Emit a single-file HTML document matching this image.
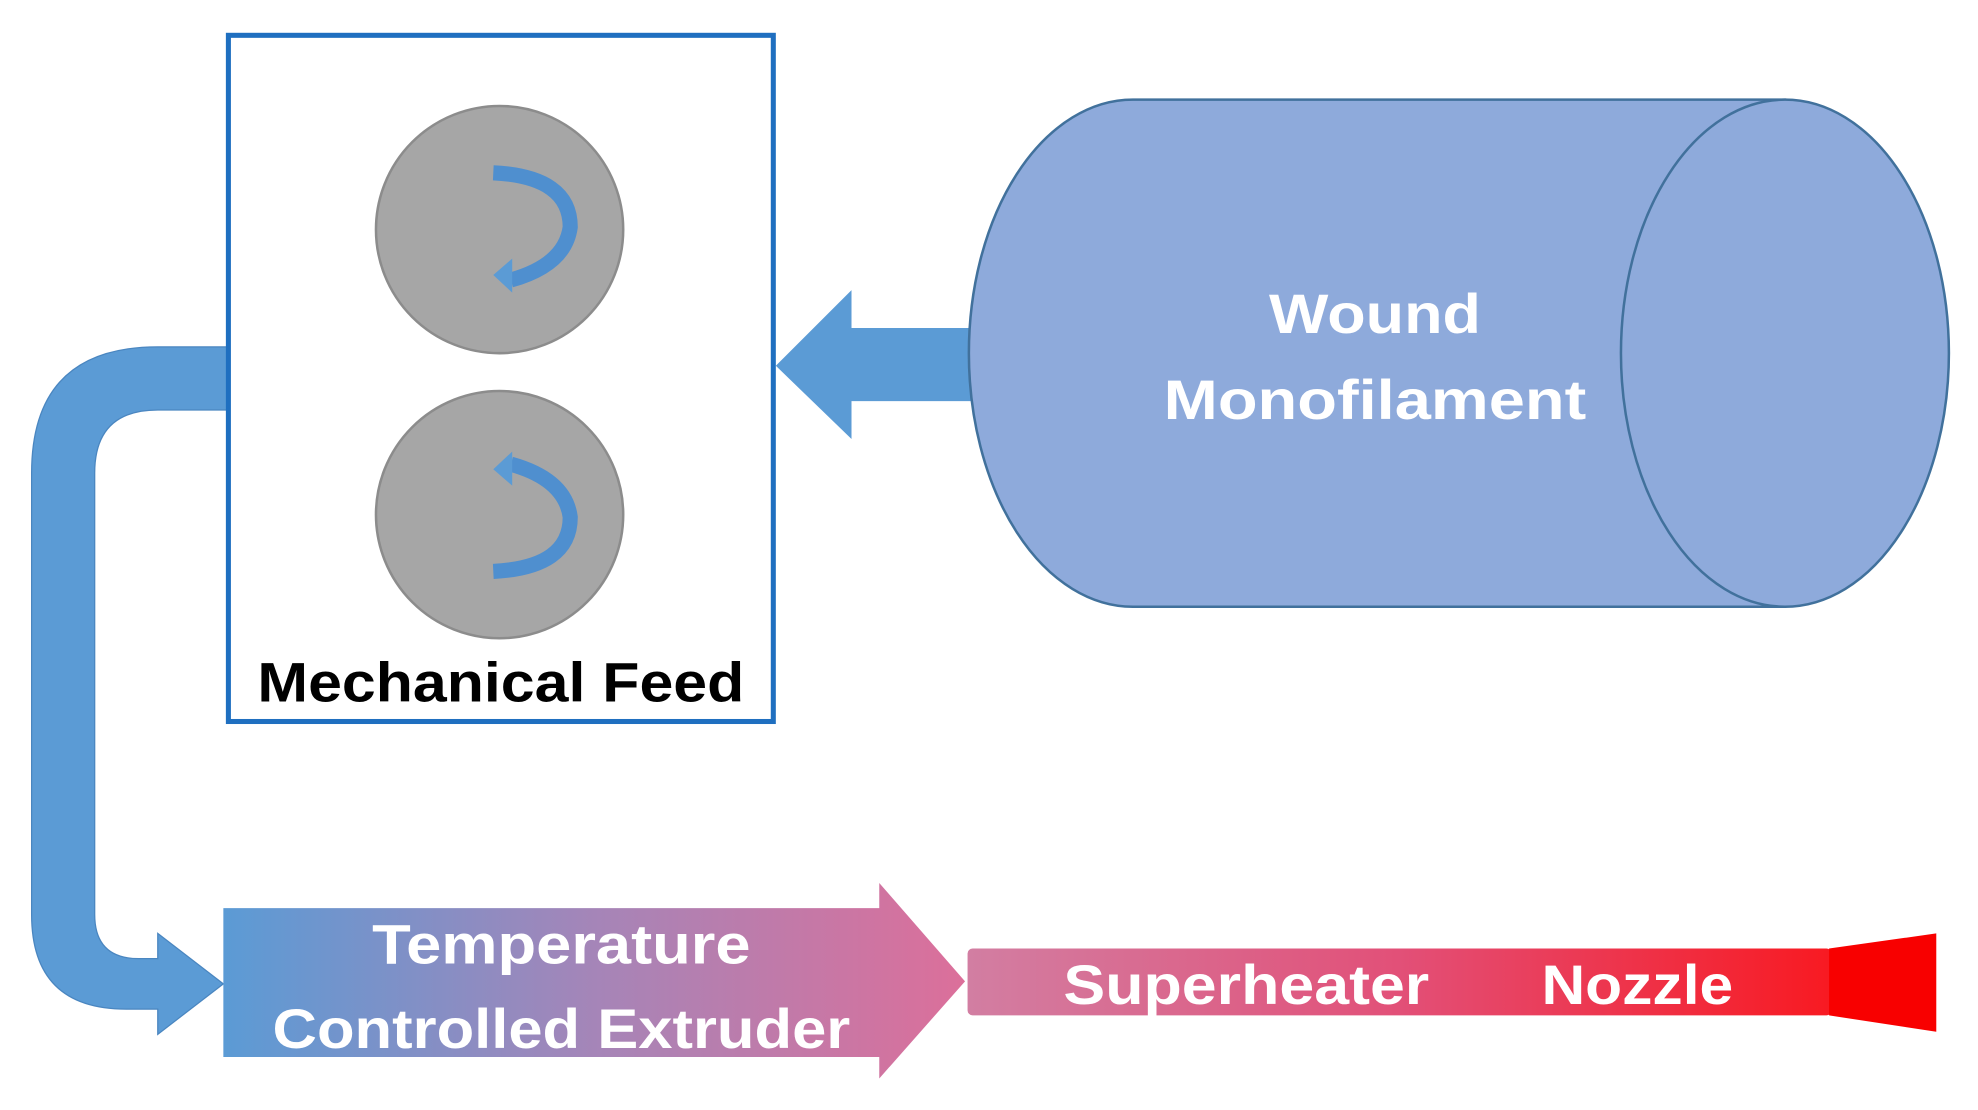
<!DOCTYPE html>
<html><head><meta charset="utf-8"><style>
html,body{margin:0;padding:0;background:#fff}
svg{display:block}
text{font-family:"Liberation Sans",sans-serif;font-weight:bold}
</style></head><body>
<svg width="1978" height="1110" viewBox="0 0 1568 880" xmlns="http://www.w3.org/2000/svg">
<defs>
<linearGradient id="g1" x1="177" y1="0" x2="765" y2="0" gradientUnits="userSpaceOnUse">
<stop offset="0" stop-color="#5b9bd5"/><stop offset="0.5" stop-color="#a585b8"/><stop offset="1" stop-color="#dc6f9a"/></linearGradient>
<linearGradient id="g2" x1="767" y1="0" x2="1450" y2="0" gradientUnits="userSpaceOnUse">
<stop offset="0" stop-color="#d27ea2"/><stop offset="0.5" stop-color="#e25078"/><stop offset="1" stop-color="#f81a22"/></linearGradient>
</defs>
<!-- bent arrow -->
<path d="M180,275 L125,275 Q25,275 25,375 L25,725 Q25,800 100,800 L125,800 L125,820 L177,780 L125,740 L125,760 L110,760 Q75,760 75,725 L75,375 Q75,325 125,325 L180,325 Z" fill="#5b9bd5" stroke="#4a86c0" stroke-width="1"/>
<!-- box -->
<rect x="181" y="28" width="432" height="544" fill="#fff" stroke="#1f6fc0" stroke-width="4"/>
<circle cx="396" cy="182" r="98" fill="#a6a6a6" stroke="#8c8c8c" stroke-width="2"/>
<circle cx="396" cy="408" r="98" fill="#a6a6a6" stroke="#8c8c8c" stroke-width="2"/>
<path d="M391,137 Q452,140 452,180 Q448,210 405,222" fill="none" stroke="#4f8fcf" stroke-width="12"/>
<path d="M391,218 L406,205 L406,232 Z" fill="#5b9bd5"/>
<path d="M391,453 Q452,450 452,410 Q448,380 405,368" fill="none" stroke="#4f8fcf" stroke-width="12"/>
<path d="M391,372 L406,385 L406,358 Z" fill="#5b9bd5"/>
<text x="397" y="556" font-size="44" text-anchor="middle" fill="#000" textLength="386" lengthAdjust="spacingAndGlyphs">Mechanical Feed</text>
<!-- left arrow -->
<path d="M615,290 L675,230 L675,260 L770,260 L770,318 L675,318 L675,348 Z" fill="#5b9bd5"/>
<!-- cylinder -->
<path d="M1415,79 L898,79 A130,201 0 0 0 898,481 L1415,481 Z" fill="#8eaadb" stroke="#41719c" stroke-width="2"/>
<ellipse cx="1415" cy="280" rx="130" ry="201" fill="#8eaadb" stroke="#41719c" stroke-width="2"/>
<text x="1090" y="264" font-size="44" text-anchor="middle" fill="#fff" textLength="168" lengthAdjust="spacingAndGlyphs">Wound</text>
<text x="1090" y="332" font-size="44" text-anchor="middle" fill="#fff" textLength="335" lengthAdjust="spacingAndGlyphs">Monofilament</text>
<!-- extruder arrow -->
<path d="M177,720 L697,720 L697,700 L765,778 L697,855 L697,838 L177,838 Z" fill="url(#g1)"/>
<text x="445" y="764" font-size="44" text-anchor="middle" fill="#fff" textLength="300" lengthAdjust="spacingAndGlyphs">Temperature</text>
<text x="445" y="831" font-size="44" text-anchor="middle" fill="#fff" textLength="458" lengthAdjust="spacingAndGlyphs">Controlled Extruder</text>
<!-- superheater -->
<rect x="767" y="752" width="685" height="53" rx="4" fill="url(#g2)"/>
<path d="M1450,752 L1535,740 L1535,818 L1450,805 Z" fill="#f80000"/>
<text x="988" y="796" font-size="44" text-anchor="middle" fill="#fff" textLength="290" lengthAdjust="spacingAndGlyphs">Superheater</text>
<text x="1298" y="796" font-size="44" text-anchor="middle" fill="#fff" textLength="152" lengthAdjust="spacingAndGlyphs">Nozzle</text>
</svg>
</body></html>
